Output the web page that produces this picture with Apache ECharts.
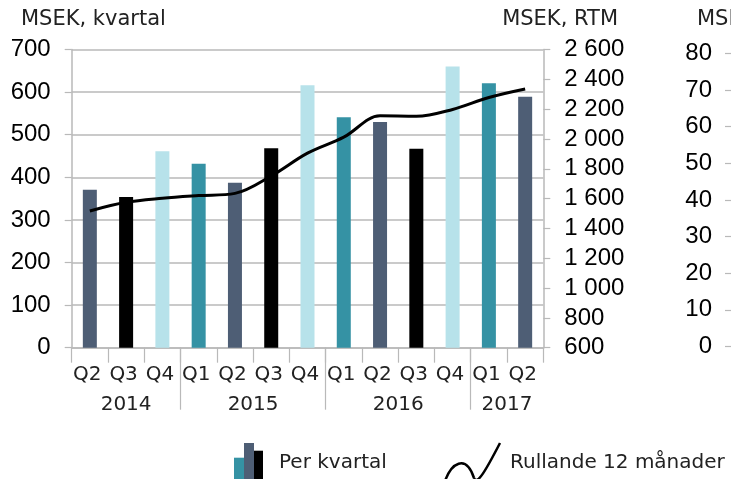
<!DOCTYPE html>
<html>
<head>
<meta charset="utf-8">
<script src="https://cdn.jsdelivr.net/npm/echarts@6/dist/echarts.min.js"></script>
<style>
html,body{margin:0;padding:0;background:#fff;}
#chart{width:731px;height:479px;}
</style>
</head>
<body>
<div id="chart"></div>
<script>
var quarters = ['Q2','Q3','Q4','Q1','Q2','Q3','Q4','Q1','Q2','Q3','Q4','Q1','Q2'];
var years = ['2014','2015','2016','2017'];
var yearQuarterCounts = [3,4,4,2];
var perKvartal = [371,354,461,432,387,468,616,541,530,467,660,621,589];
var rullande12 = [1517,1575,1602,1620,1635,1752,1905,2012,2155,2152,2198,2278,2335];
var leftTicks = [0,700,100];
var rightTicks = [600,2600,200];
var otherTicks = [0,80,10];

var quarterColors = {Q1:'#3592a4', Q2:'#4e5e75', Q3:'#000000', Q4:'#b7e2ea'};
var gridColor = '#b9b9b9';
var numFont = '"Liberation Sans", Arial, sans-serif';
var txtFont = '"DejaVu Sans", sans-serif';

var yearBounds = [], yearCenters = [], acc = 0;
yearQuarterCounts.forEach(function(n, i){
  yearCenters.push(acc + n/2);
  acc += n;
  if (i < yearQuarterCounts.length - 1) yearBounds.push(acc);
});

function spaceThousands(v){
  return String(v).replace(/\B(?=(\d{3})+(?!\d))/g, ' ');
}

var chart = echarts.init(document.getElementById('chart'), null, {renderer:'canvas'});
chart.setOption({
  animation: false,
  backgroundColor: '#fff',
  grid: [
    {left: 71.7, right: 187.7, top: 49.5, bottom: 131.3},
    {left: 732, width: 200, top: 53.3, bottom: 132.5}
  ],
  xAxis: [
    {
      type: 'category', gridIndex: 0, data: quarters,
      axisLine: {show: true, lineStyle: {color: gridColor, width: 1.5}},
      axisTick: {show: true, alignWithLabel: false, interval: 0, length: 15, lineStyle: {color: gridColor, width: 1.2}},
      axisLabel: {interval: 0, color: '#222', fontFamily: txtFont, fontSize: 20, margin: 17, padding: [0, 5, 0, 0]}
    },
    {
      type: 'value', gridIndex: 0, min: 0, max: quarters.length, position: 'bottom',
      axisLine: {show: false}, splitLine: {show: false},
      axisTick: {show: true, customValues: yearBounds, length: 62, lineStyle: {color: gridColor, width: 1.2}},
      axisLabel: {
        customValues: yearCenters, color: '#222', fontFamily: txtFont, fontSize: 20, margin: 47,
        formatter: function(v){ var i = yearCenters.indexOf(v); return i >= 0 ? years[i] : ''; }
      }
    },
    {type: 'category', gridIndex: 1, data: [''], show: false}
  ],
  yAxis: [
    {
      type: 'value', gridIndex: 0, min: leftTicks[0], max: leftTicks[1], interval: leftTicks[2],
      axisLine: {show: true, lineStyle: {color: gridColor, width: 1.5}},
      axisTick: {show: true, length: 7, lineStyle: {color: gridColor, width: 1.2}},
      splitLine: {show: true, lineStyle: {color: gridColor, width: 1.5}},
      axisLabel: {color: '#000', fontFamily: numFont, fontSize: 24, margin: 21}
    },
    {
      type: 'value', gridIndex: 0, position: 'right', min: rightTicks[0], max: rightTicks[1], interval: rightTicks[2],
      axisLine: {show: true, lineStyle: {color: gridColor, width: 1.5}},
      axisTick: {show: true, length: 7, lineStyle: {color: gridColor, width: 1.2}},
      splitLine: {show: false},
      axisLabel: {color: '#000', fontFamily: numFont, fontSize: 24, margin: 21, formatter: spaceThousands}
    },
    {
      type: 'value', gridIndex: 1, min: otherTicks[0], max: otherTicks[1], interval: otherTicks[2],
      axisLine: {show: false},
      axisTick: {show: true, length: 7, lineStyle: {color: gridColor, width: 1.2}},
      splitLine: {show: false},
      axisLabel: {color: '#000', fontFamily: numFont, fontSize: 24, margin: 20}
    }
  ],
  series: [
    {
      name: 'Per kvartal', type: 'bar', xAxisIndex: 0, yAxisIndex: 0, barWidth: 14,
      data: perKvartal.map(function(v, i){
        return {value: v, itemStyle: {color: quarterColors[quarters[i]]}};
      })
    },
    {
      name: 'Rullande 12 månader', type: 'line', xAxisIndex: 0, yAxisIndex: 1,
      data: rullande12, smooth: 0.35, showSymbol: false, symbol: 'none',
      lineStyle: {color: '#000', width: 3}, z: 5
    }
  ],
  graphic: [
    {type: 'text', x: 21, y: 9, style: {text: 'MSEK, kvartal', font: '21px ' + txtFont, fill: '#222'}},
    {type: 'text', x: 618, y: 9, style: {text: 'MSEK, RTM', align: 'right', font: '21px ' + txtFont, fill: '#222'}},
    {type: 'text', x: 697, y: 9, style: {text: 'MSEK, kvartal', font: '21px ' + txtFont, fill: '#222'}},
    {type: 'rect', shape: {x: 234, y: 457.7, width: 10, height: 30}, style: {fill: quarterColors.Q1}},
    {type: 'rect', shape: {x: 244, y: 443, width: 10, height: 40}, style: {fill: quarterColors.Q2}},
    {type: 'rect', shape: {x: 254, y: 450.7, width: 9, height: 30}, style: {fill: quarterColors.Q3}},
    {type: 'text', x: 279, y: 453, style: {text: 'Per kvartal', font: '20px ' + txtFont, fill: '#222'}},
    {type: 'bezierCurve', shape: {x1: 444, y1: 484, cpx1: 451, cpy1: 462, cpx2: 466, cpy2: 454, x2: 474, y2: 478},
      style: {fill: null, stroke: '#000', lineWidth: 2.5}},
    {type: 'bezierCurve', shape: {x1: 474, y1: 478, cpx1: 477, cpy1: 486, cpx2: 486, cpy2: 470, x2: 500, y2: 443},
      style: {fill: null, stroke: '#000', lineWidth: 2.5}},
    {type: 'text', x: 510, y: 453, style: {text: 'Rullande 12 månader', font: '20px ' + txtFont, fill: '#222'}}
  ]
});
</script>
</body>
</html>
